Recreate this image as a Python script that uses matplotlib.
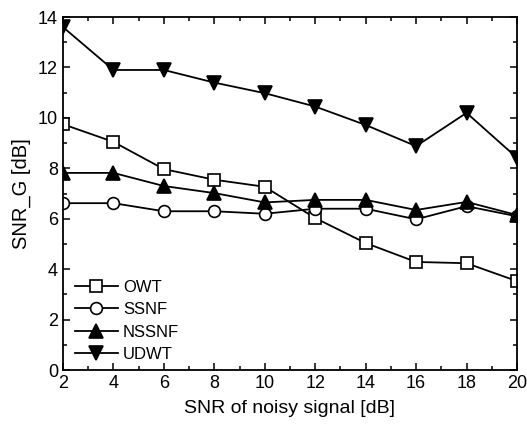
import numpy as np
import matplotlib.pyplot as plt
from matplotlib.ticker import MultipleLocator

plt.rcParams['font.family'] = ['Liberation Sans', 'DejaVu Sans']

# SNR of the noisy input signal [dB]
snr_in = [2, 4, 6, 8, 10, 12, 14, 16, 18, 20]

# output SNR gain for each method [dB]
owt = [9.75, 9.05, 7.97, 7.55, 7.27, 6.03, 5.04, 4.29, 4.24, 3.53]
ssnf = [6.62, 6.62, 6.3, 6.3, 6.2, 6.4, 6.4, 5.98, 6.5, 6.1]
nssnf = [7.82, 7.82, 7.3, 7.02, 6.65, 6.75, 6.75, 6.35, 6.67, 6.15]
udwt = [13.6, 11.9, 11.9, 11.4, 10.98, 10.45, 9.72, 8.88, 10.2, 8.42]

fig = plt.figure(figsize=(5.27, 4.25), dpi=100)
ax = fig.add_axes([0.1195, 0.129, 0.8615, 0.831])

style = dict(color='black', linewidth=1.3, markeredgecolor='black', markeredgewidth=1.2)
ax.plot(snr_in, owt, marker='s', markersize=8, markerfacecolor='white', label='OWT', **style)
ax.plot(snr_in, ssnf, marker='o', markersize=8.5, markerfacecolor='white', label='SSNF', **style)
ax.plot(snr_in, nssnf, marker='^', markersize=10, markerfacecolor='black', label='NSSNF', **style)
ax.plot(snr_in, udwt, marker='v', markersize=10, markerfacecolor='black', label='UDWT', **style)

ax.set_xlim(2, 20)
ax.set_ylim(0, 14)
ax.xaxis.set_major_locator(MultipleLocator(2))
ax.xaxis.set_minor_locator(MultipleLocator(1))
ax.yaxis.set_major_locator(MultipleLocator(2))
ax.yaxis.set_minor_locator(MultipleLocator(1))
ax.tick_params(which='both', direction='in', top=True, right=True, labelsize=13, width=1.1)
ax.tick_params(which='major', length=5)
ax.tick_params(which='minor', length=3)
for s in ax.spines.values():
    s.set_linewidth(1.3)

ax.set_xlabel('SNR of noisy signal [dB]', fontsize=14, labelpad=6)
ax.set_ylabel('SNR_G [dB]', fontsize=14.5, labelpad=5)

ax.legend(loc='lower left', bbox_to_anchor=(0.0, -0.01), frameon=False, fontsize=12,
          handlelength=2.6, labelspacing=0.45, handletextpad=0.3, borderaxespad=0.3)

fig.savefig('out.png', dpi=100)
